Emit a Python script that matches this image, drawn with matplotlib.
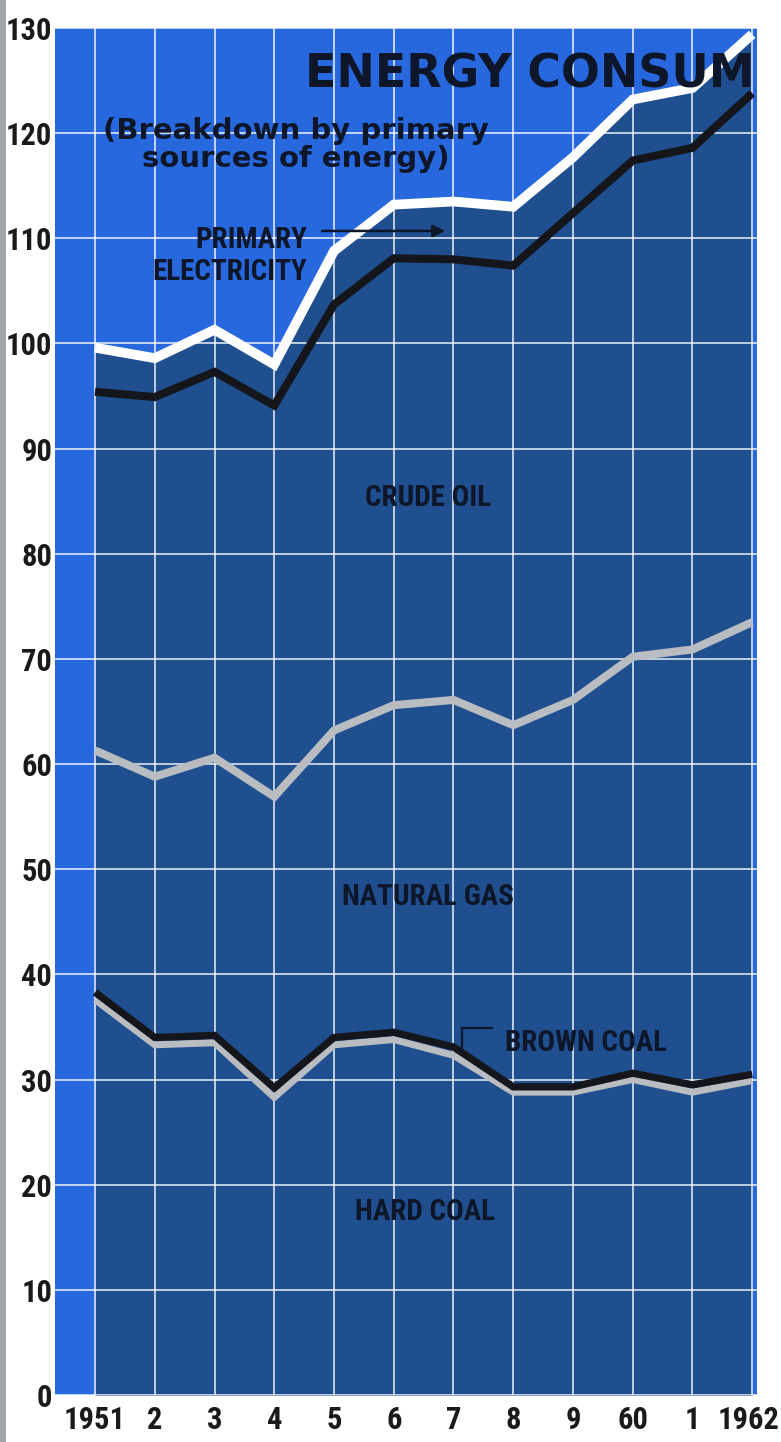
import numpy as np
import matplotlib
matplotlib.use("Agg")
import matplotlib.pyplot as plt
from matplotlib import font_manager as fm
from matplotlib.patches import Rectangle
from matplotlib.transforms import ScaledTranslation

# ---------------- data ----------------
years = [1951, 1952, 1953, 1954, 1955, 1956, 1957, 1958, 1959, 1960, 1961, 1962]
year_labels = ["1951", "2", "3", "4", "5", "6", "7", "8", "9", "60", "1", "1962"]
hard_coal = [37.6, 33.3, 33.5, 28.3, 33.3, 33.8, 32.3, 28.8, 28.8, 30.0, 28.8, 29.9]
brown_coal = [0.7, 0.7, 0.7, 0.9, 0.7, 0.7, 0.8, 0.5, 0.5, 0.6, 0.7, 0.6]
natural_gas = [23.0, 24.8, 26.4, 27.7, 29.2, 31.1, 33.0, 34.4, 36.8, 39.6, 41.4, 43.0]
crude_oil = [34.1, 36.1, 36.7, 37.2, 40.5, 42.5, 41.9, 43.7, 46.3, 47.2, 47.7, 50.3]
primary_electricity = [4.2, 3.7, 4.0, 3.9, 5.1, 5.1, 5.5, 5.6, 5.3, 5.8, 5.7, 5.6]
y_ticks = list(range(0, 131, 10))

# ---------------- fonts ----------------
available = {f.name for f in fm.fontManager.ttflist}
cond = None
for cand in ["Liberation Sans Narrow", "Roboto Condensed", "DejaVu Sans Condensed"]:
    if cand in available:
        cond = cand
        break
if cond is None:
    cond = "DejaVu Sans"
cond_fam = [cond, "DejaVu Sans"]
wide_fam = ["DejaVu Sans"]

# ---------------- colours ----------------
BRIGHT = "#2868de"
DARK = "#1f4f8f"
INK = "#0e1629"
GRAY_LINE = "#b9bcc0"
BLACK_LINE = "#14161c"

W, H = 781, 1442
fig = plt.figure(figsize=(W / 100, H / 100), dpi=100, facecolor="white")
left_px, right_px, top_px, bot_px = 55, 757, 28, 1395
ax = fig.add_axes([left_px / W, 1 - bot_px / H, (right_px - left_px) / W, (bot_px - top_px) / H])
ax.set_facecolor(BRIGHT)

x = np.array(years, dtype=float)
l1 = np.array(hard_coal)
l2 = l1 + np.array(brown_coal)
l3 = l2 + np.array(natural_gas)
l4 = l3 + np.array(crude_oil)
l5 = l4 + np.array(primary_electricity)

ax.fill_between(x, 0, l5, color=DARK, lw=0, zorder=1)

# lines
ax.plot(x, l5, color="white", lw=7, solid_joinstyle="miter", solid_capstyle="butt", zorder=5)
ax.plot(x, l4, color=BLACK_LINE, lw=5.8, solid_joinstyle="miter", solid_capstyle="butt", zorder=5)
ax.plot(x, l3, color=GRAY_LINE, lw=5.8, solid_joinstyle="miter", solid_capstyle="butt", zorder=5)
ax.plot(x, l1, color=GRAY_LINE, lw=5.0, solid_joinstyle="miter", solid_capstyle="butt", zorder=5)
ax.plot(x, l2, color=BLACK_LINE, lw=5.2, solid_joinstyle="miter", solid_capstyle="butt", zorder=6)

ax.set_xlim(1950.33, 1962.08)
ax.set_ylim(0, 130)
ax.set_xticks(years)
ax.set_xticklabels(year_labels)
ax.set_yticks(y_ticks)
ax.set_yticklabels([str(v) for v in y_ticks])
ax.tick_params(axis="both", length=0, colors=INK)
ax.tick_params(axis="x", pad=7)
ax.tick_params(axis="y", pad=2)
for lab in ax.get_xticklabels() + ax.get_yticklabels():
    lab.set_fontfamily(cond_fam)
    lab.set_fontsize(22)
    lab.set_fontweight("bold")
    lab.set_color("#1a1a1a")
last = ax.get_xticklabels()[-1]
last.set_transform(last.get_transform() + ScaledTranslation(-4 / 100, 0, fig.dpi_scale_trans))
for sp in ax.spines.values():
    sp.set_visible(False)
ax.set_axisbelow(False)
ax.grid(True, color="white", alpha=0.78, lw=1.3)

# labels inside chart
lab_kw = dict(fontfamily=cond_fam, fontsize=21, fontweight="bold", color=INK, zorder=8)
ax.text(1954.55, 109.8, "PRIMARY", ha="right", va="center", **lab_kw)
ax.text(1954.55, 106.8, "ELECTRICITY", ha="right", va="center", **lab_kw)
ax.annotate("", xy=(1956.86, 110.7), xytext=(1954.80, 110.7),
            arrowprops=dict(arrowstyle="-|>", color=INK, lw=1.8, mutation_scale=18,
                            shrinkA=0, shrinkB=0), zorder=8)
ax.text(1956.57, 85.3, "CRUDE OIL", ha="center", va="center", **lab_kw)
ax.text(1956.57, 47.4, "NATURAL GAS", ha="center", va="center", **lab_kw)
ax.text(1956.52, 17.4, "HARD COAL", ha="center", va="center", **lab_kw)
ax.text(1957.86, 33.5, "BROWN COAL", ha="left", va="center", **lab_kw)
ax.plot([1957.14, 1957.14, 1957.65], [32.8, 34.9, 34.9], color=INK, lw=1.6, zorder=8)

# title and subtitle
fig.text(305 / W, 1 - 87 / H, "ENERGY CONSUM", fontfamily=wide_fam, fontsize=33,
         fontweight="heavy", color=INK, ha="left", va="baseline")
fig.text(296 / W, 1 - 139 / H, "(Breakdown by primary", fontfamily=wide_fam, fontsize=21,
         fontweight="bold", color=INK, ha="center", va="baseline")
fig.text(296 / W, 1 - 167 / H, "sources of energy)", fontfamily=wide_fam, fontsize=21,
         fontweight="bold", color=INK, ha="center", va="baseline")

# grey page margin on the left
fig.add_artist(Rectangle((0, 0), 6 / W, 1, transform=fig.transFigure, color="#a3a7aa", lw=0))

fig.savefig("out.png", dpi=100, facecolor="white")
